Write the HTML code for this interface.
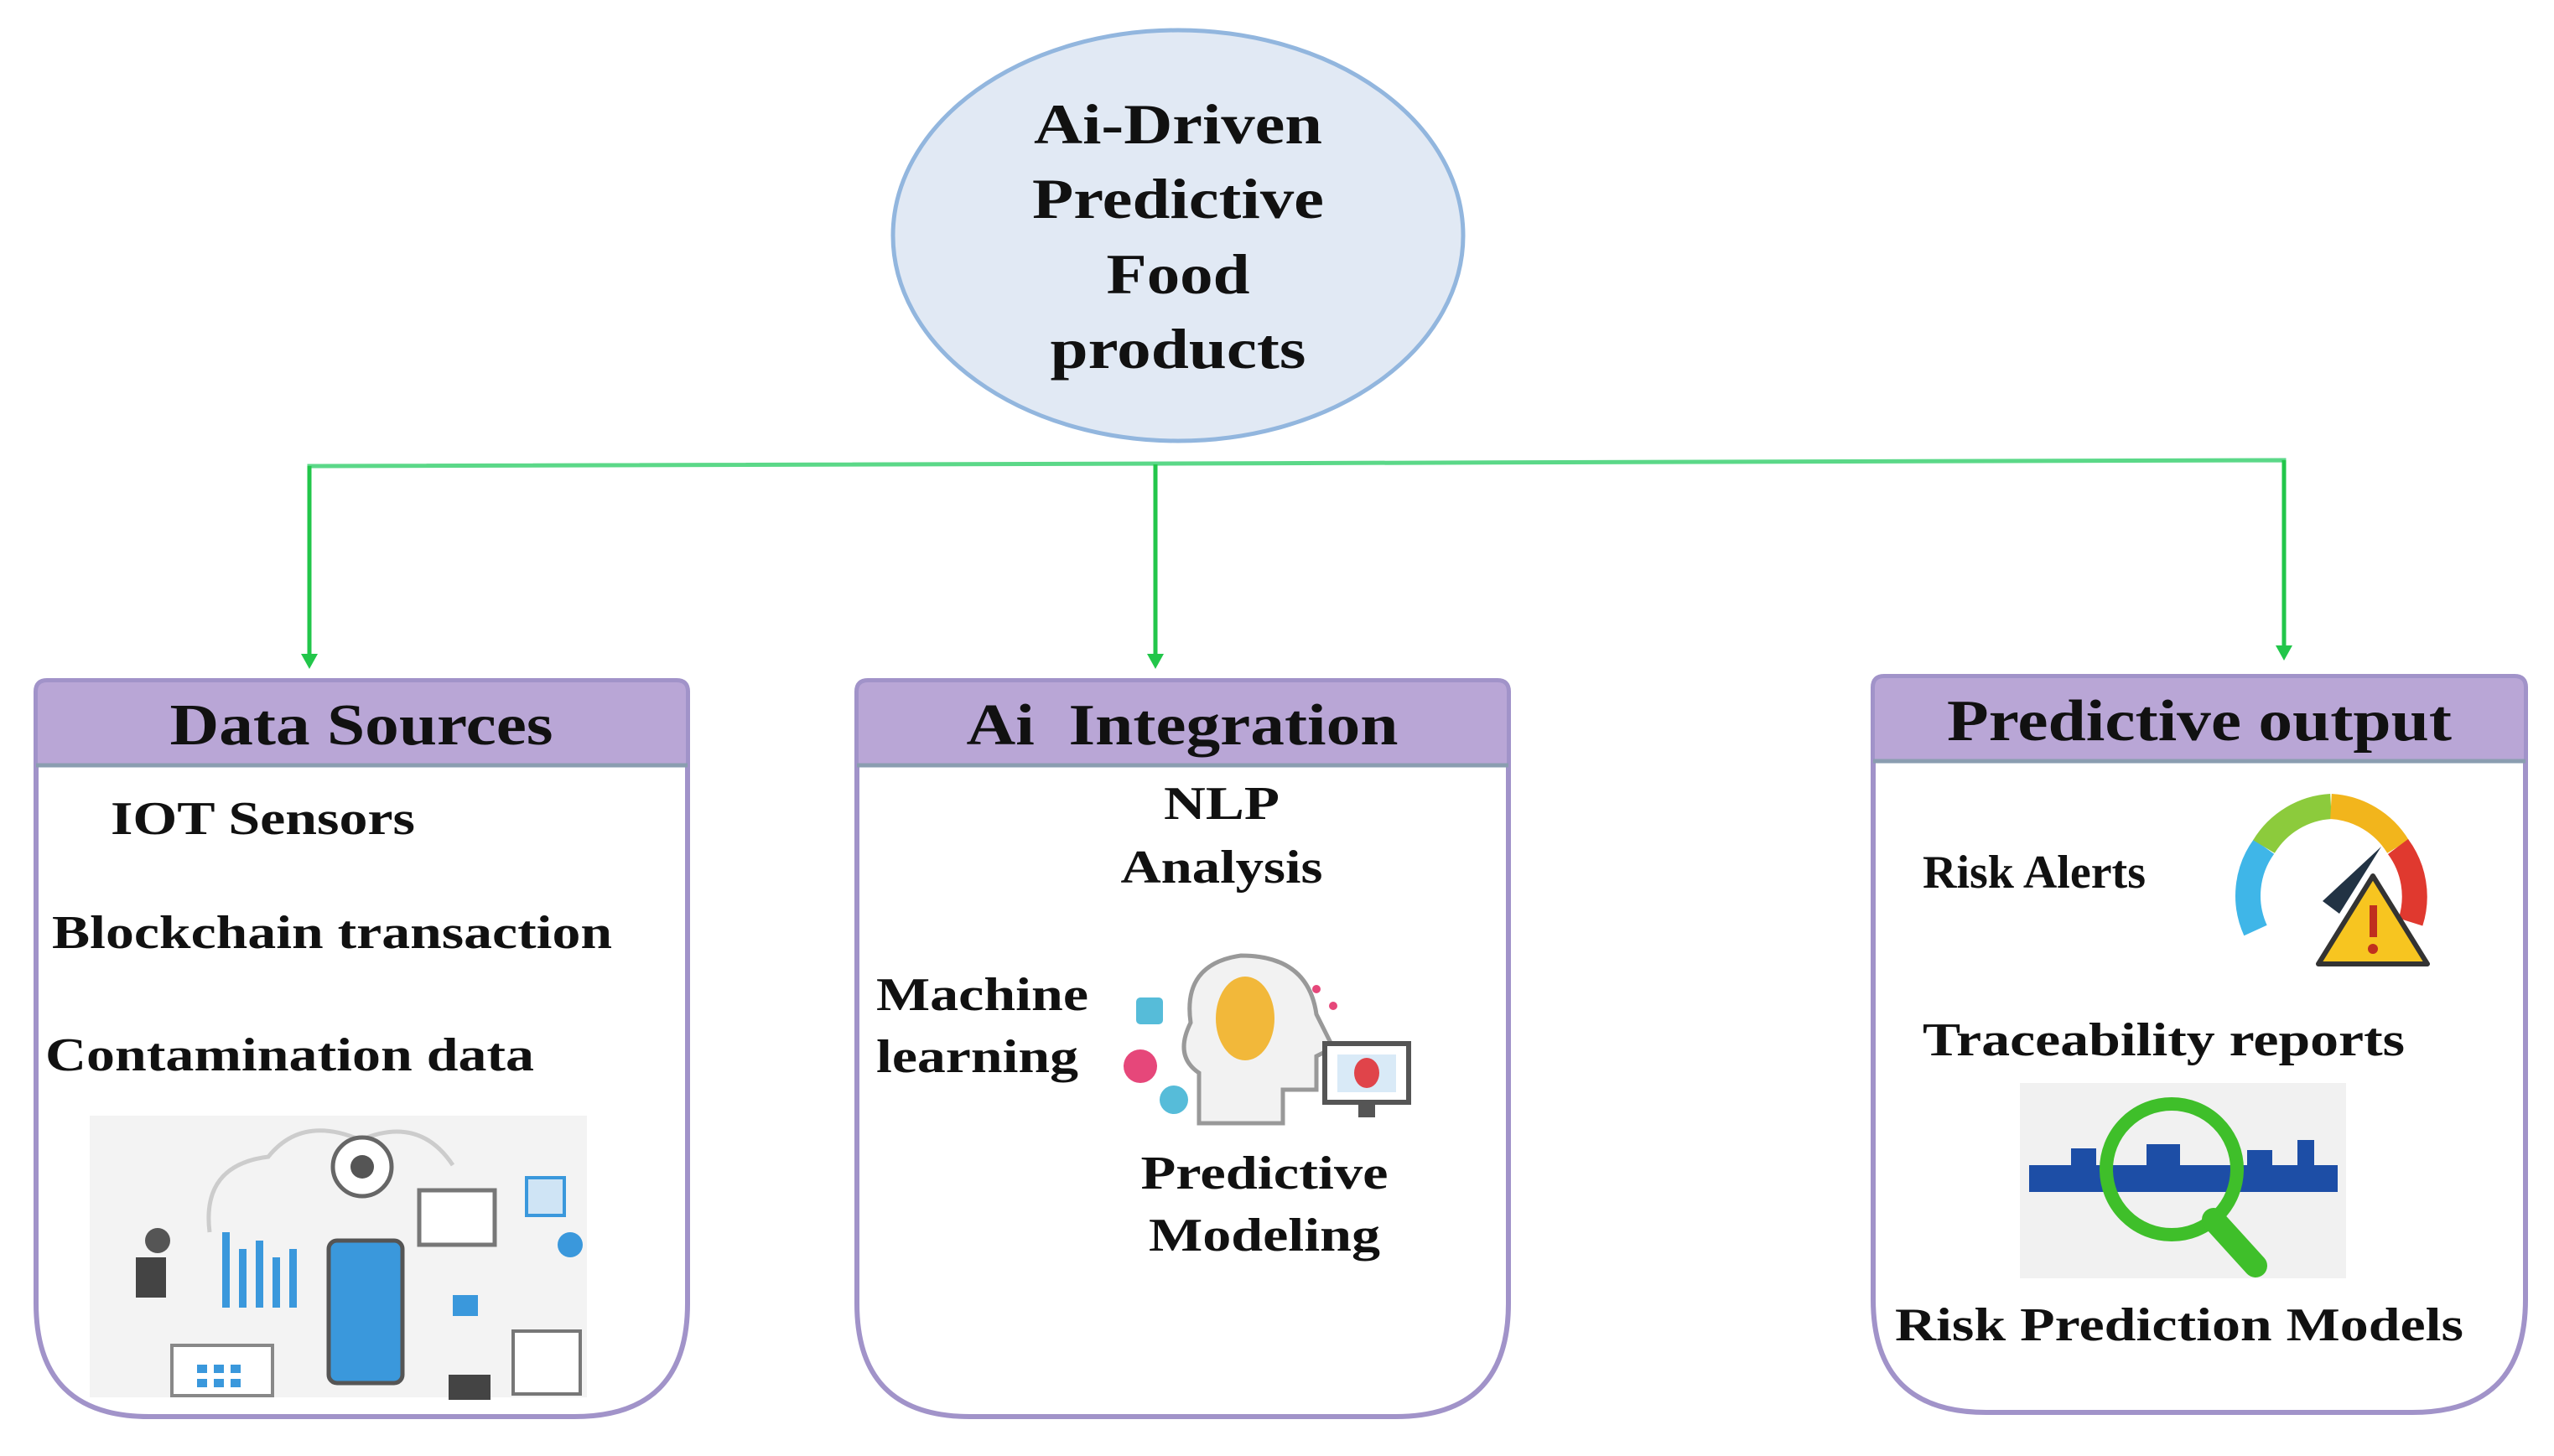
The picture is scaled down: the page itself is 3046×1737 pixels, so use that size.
<!DOCTYPE html>
<html><head><meta charset="utf-8"><style>
html,body{margin:0;padding:0;background:#fff}
svg{display:block}
</style></head><body>
<svg width="3046" height="1737" viewBox="0 0 3046 1737" xmlns="http://www.w3.org/2000/svg" font-family="'Liberation Serif','DejaVu Serif',serif" font-weight="bold">
<!-- ellipse -->
<ellipse cx="1405" cy="281" rx="340" ry="245" fill="#e1e9f4" stroke="#92b6de" stroke-width="5"/>
<g font-size="68" text-anchor="middle" fill="#111" lengthAdjust="spacingAndGlyphs">
<text x="1405" y="171" textLength="344" lengthAdjust="spacingAndGlyphs">Ai-Driven</text>
<text x="1405" y="260" textLength="348" lengthAdjust="spacingAndGlyphs">Predictive</text>
<text x="1405" y="350" textLength="171" lengthAdjust="spacingAndGlyphs">Food</text>
<text x="1405" y="439" textLength="305" lengthAdjust="spacingAndGlyphs">products</text>
</g>
<!-- connectors -->
<polyline points="369,785 369,556 2724,549 2724,775" fill="none" stroke="#5bd888" stroke-width="5"/>
<line x1="1378" y1="554" x2="1378" y2="790" stroke="#22c64a" stroke-width="5"/>
<line x1="369" y1="556" x2="369" y2="785" stroke="#22c64a" stroke-width="5"/>
<line x1="2724" y1="549" x2="2724" y2="775" stroke="#22c64a" stroke-width="5"/>
<path d="M359,780 L379,780 L369,798 z M1368,780 L1388,780 L1378,798 z M2714,770 L2734,770 L2724,788 z" fill="#22c64a"/>

<!-- boxes -->
<g fill="#fff" stroke="#a193c9" stroke-width="6">
<path d="M43,825 Q43,812 56,812 L807,812 Q820,812 820,825 L820,1555 Q820,1690 685,1690 L178,1690 Q43,1690 43,1555 z"/>
<path d="M1022,825 Q1022,812 1035,812 L1786,812 Q1799,812 1799,825 L1799,1555 Q1799,1690 1664,1690 L1157,1690 Q1022,1690 1022,1555 z"/>
<path d="M2234,820 Q2234,807 2247,807 L2999,807 Q3012,807 3012,820 L3012,1550 Q3012,1685 2877,1685 L2369,1685 Q2234,1685 2234,1550 z"/>
</g>
<g fill="#b9a6d6" stroke="#a193c9" stroke-width="4">
<path d="M43,825 Q43,812 56,812 L807,812 Q820,812 820,825 L820,913 L43,913 z"/>
<path d="M1022,825 Q1022,812 1035,812 L1786,812 Q1799,812 1799,825 L1799,913 L1022,913 z"/>
<path d="M2234,820 Q2234,807 2247,807 L2999,807 Q3012,807 3012,820 L3012,908 L2234,908 z"/>
</g>
<g stroke="#8a9db0" stroke-width="5"><line x1="43" y1="913" x2="820" y2="913"/><line x1="1022" y1="913" x2="1799" y2="913"/><line x1="2234" y1="908" x2="3012" y2="908"/></g>
<g font-size="70" text-anchor="middle" fill="#111">
<text x="431" y="888" textLength="457" lengthAdjust="spacingAndGlyphs">Data Sources</text>
<text x="1410" y="888" textLength="515" lengthAdjust="spacingAndGlyphs" xml:space="preserve">Ai  Integration</text>
<text x="2623" y="883" textLength="602" lengthAdjust="spacingAndGlyphs">Predictive output</text>
</g>

<!-- Data sources text -->
<g font-size="56" fill="#111">
<text x="132" y="995" textLength="363" lengthAdjust="spacingAndGlyphs">IOT Sensors</text>
<text x="62" y="1131" textLength="668" lengthAdjust="spacingAndGlyphs">Blockchain transaction</text>
<text x="54" y="1277" textLength="583" lengthAdjust="spacingAndGlyphs">Contamination data</text>
</g>
<!-- IoT illustration -->
<g>
<rect x="107" y="1331" width="593" height="336" fill="#f3f3f3"/>
<path d="M250,1470 Q240,1390 320,1380 Q360,1330 430,1360 Q500,1330 540,1390" fill="none" stroke="#ccc" stroke-width="5"/>
<g fill="#3a98dc"><rect x="265" y="1470" width="9" height="90"/><rect x="285" y="1490" width="9" height="70"/><rect x="305" y="1480" width="9" height="80"/><rect x="325" y="1500" width="9" height="60"/><rect x="345" y="1490" width="9" height="70"/></g>
<rect x="392" y="1480" width="88" height="170" rx="10" fill="#3a98dc" stroke="#555" stroke-width="5"/>
<circle cx="432" cy="1392" r="35" fill="#fff" stroke="#666" stroke-width="5"/><circle cx="432" cy="1392" r="14" fill="#555"/>
<rect x="500" y="1420" width="90" height="65" fill="#fff" stroke="#777" stroke-width="5"/>
<rect x="628" y="1405" width="45" height="45" fill="#cfe4f5" stroke="#3a98dc" stroke-width="4"/>
<circle cx="680" cy="1485" r="15" fill="#3a98dc"/>
<rect x="162" y="1500" width="36" height="48" fill="#444"/><circle cx="188" cy="1480" r="15" fill="#555"/>
<rect x="205" y="1605" width="120" height="60" fill="#fff" stroke="#888" stroke-width="4"/>
<g fill="#3a98dc"><rect x="235" y="1628" width="12" height="10"/><rect x="255" y="1628" width="12" height="10"/><rect x="275" y="1628" width="12" height="10"/><rect x="235" y="1645" width="12" height="10"/><rect x="255" y="1645" width="12" height="10"/><rect x="275" y="1645" width="12" height="10"/></g>
<rect x="612" y="1588" width="80" height="75" fill="#fff" stroke="#777" stroke-width="4"/>
<rect x="535" y="1640" width="50" height="30" fill="#444"/>
<rect x="540" y="1545" width="30" height="25" fill="#3a98dc"/>
</g>

<!-- AI integration -->
<g font-size="56" text-anchor="middle" fill="#111">
<text x="1457" y="977" textLength="138" lengthAdjust="spacingAndGlyphs">NLP</text>
<text x="1457" y="1053" textLength="241" lengthAdjust="spacingAndGlyphs">Analysis</text>
<text x="1508" y="1418" textLength="295" lengthAdjust="spacingAndGlyphs">Predictive</text>
<text x="1508" y="1492" textLength="276" lengthAdjust="spacingAndGlyphs">Modeling</text>
</g>
<g font-size="56" fill="#111"><text x="1045" y="1205" textLength="253" lengthAdjust="spacingAndGlyphs">Machine</text><text x="1045" y="1279" textLength="241" lengthAdjust="spacingAndGlyphs">learning</text></g>
<g>
<path d="M1430,1340 L1430,1280 Q1400,1260 1420,1220 Q1410,1150 1480,1140 Q1560,1140 1570,1210 L1590,1250 L1570,1260 L1570,1300 L1530,1300 L1530,1340 z" fill="#f2f2f2" stroke="#999" stroke-width="5"/>
<ellipse cx="1485" cy="1215" rx="35" ry="50" fill="#f2b83a"/>
<circle cx="1360" cy="1272" r="20" fill="#e6477a"/><circle cx="1400" cy="1312" r="17" fill="#56bcd9"/>
<rect x="1355" y="1190" width="32" height="32" rx="5" fill="#56bcd9"/>
<rect x="1580" y="1245" width="100" height="70" fill="#fff" stroke="#555" stroke-width="6"/><rect x="1595" y="1258" width="70" height="45" fill="#d9eaf7"/>
<ellipse cx="1630" cy="1280" rx="15" ry="18" fill="#e0444a"/>
<rect x="1620" y="1315" width="20" height="18" fill="#555"/>
<g fill="#e6477a"><circle cx="1570" cy="1180" r="5"/><circle cx="1590" cy="1200" r="5"/></g>
</g>

<!-- Predictive output -->
<g font-size="56" fill="#111">
<text x="2293" y="1059" textLength="266" lengthAdjust="spacingAndGlyphs">Risk Alerts</text>
<text x="2293" y="1259" textLength="575" lengthAdjust="spacingAndGlyphs">Traceability reports</text>
<text x="2260" y="1599" textLength="678" lengthAdjust="spacingAndGlyphs">Risk Prediction Models</text>
</g>
<!-- gauge -->
<g fill="none" stroke-width="30">
<path d="M2690,1110 A100,100 0 0 1 2700,1010" stroke="#3fb6e8"/>
<path d="M2700,1010 A100,100 0 0 1 2780,962" stroke="#8ccb3c"/>
<path d="M2780,962 A100,100 0 0 1 2860,1010" stroke="#f2b51c"/>
<path d="M2860,1010 A100,100 0 0 1 2875,1100" stroke="#e0392f"/>
</g>
<path d="M2770,1075 L2840,1010 L2790,1090 z" fill="#234" />
<path d="M2830,1045 L2895,1150 L2765,1150 z" fill="#f7c520" stroke="#333" stroke-width="6" stroke-linejoin="round"/>
<rect x="2826" y="1080" width="9" height="38" fill="#c0301e"/><circle cx="2830" cy="1132" r="6" fill="#c0301e"/>
<!-- traceability image -->
<rect x="2409" y="1292" width="389" height="233" fill="#f1f1f1"/>
<rect x="2420" y="1390" width="368" height="32" fill="#1d4ea6"/>
<g fill="#1d4ea6"><rect x="2470" y="1370" width="30" height="20"/><rect x="2560" y="1365" width="40" height="25"/><rect x="2680" y="1372" width="30" height="18"/><rect x="2740" y="1360" width="20" height="30"/></g>
<circle cx="2590" cy="1395" r="78" fill="none" stroke="#3fbf2a" stroke-width="16"/>
<line x1="2640" y1="1455" x2="2690" y2="1510" stroke="#3fbf2a" stroke-width="28" stroke-linecap="round"/>
</svg>
</body></html>
